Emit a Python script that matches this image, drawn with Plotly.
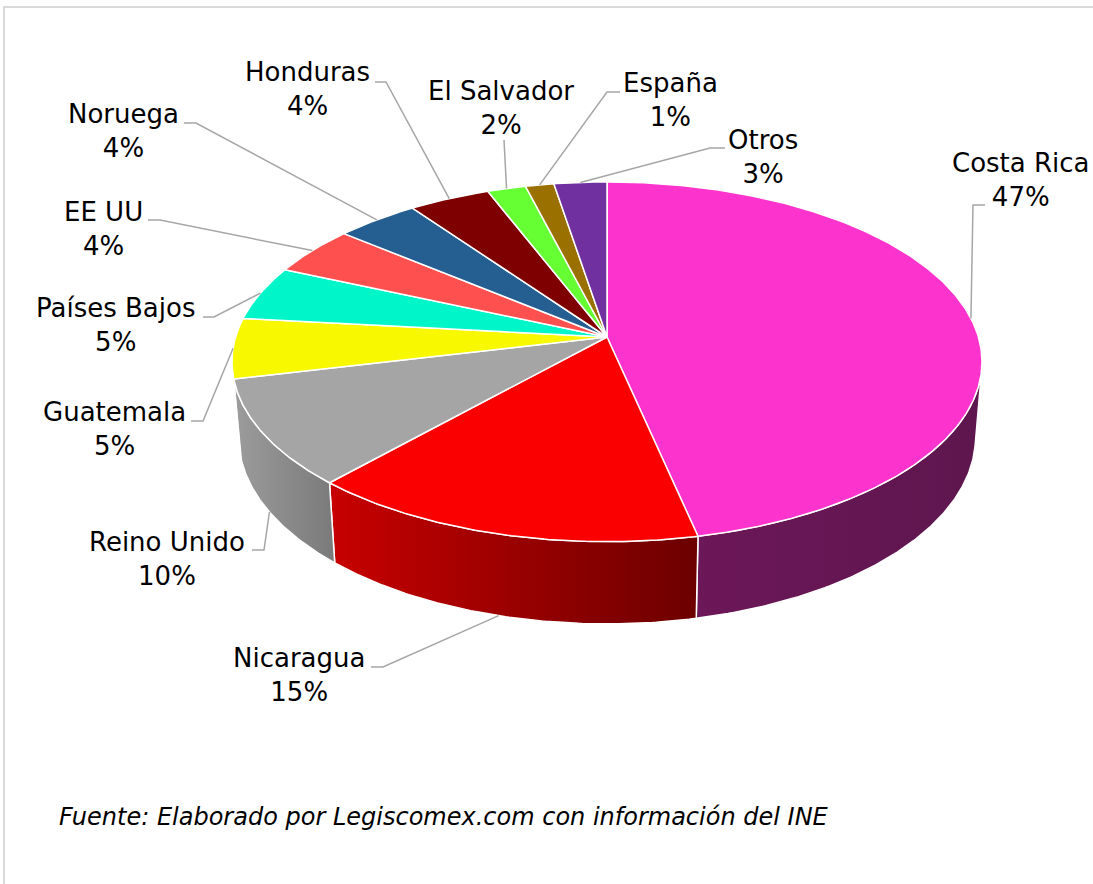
import math
import plotly.graph_objects as go

# ---------------- data ----------------
countries = ["Costa Rica", "Nicaragua", "Reino Unido", "Guatemala", "Países Bajos",
             "EE UU", "Noruega", "Honduras", "El Salvador", "España", "Otros"]
shares = [46.6, 15.1, 9.6, 5.4, 4.9, 4.4, 4.1, 4.0, 1.9, 1.4, 2.6]
top_colors = ["#FC33CC", "#FA0000", "#A5A5A5", "#F8F800", "#00F5C8",
              "#FF5050", "#255E91", "#7F0000", "#66FF33", "#9A7000", "#7030A0"]
side_colors = [("#6C1758", "#5E164E"), ("#C80000", "#6C0000"), ("#9C9C9C", "#7A7A7A"),
               ("#B8B800", "#9A9A00"), ("#00B090", "#009070"), ("#C03C3C", "#A03030"),
               ("#1B4670", "#153858"), ("#600000", "#500000"), ("#4CC020", "#3CA018"),
               ("#735400", "#604400"), ("#542478", "#441C60")]
source_note = "Fuente: Elaborado por Legiscomex.com con información del INE"

# ---------------- layout / style constants ----------------
W, H_PX = 1093, 884
CX, CY = 607.0, 337.0          # screen position of pie centre (top face)
A_SCALE, SIN_PHI = 371.4, 0.475
COS_PHI = math.sqrt(1 - SIN_PHI ** 2)
K = 0.138
DIST = COS_PHI / K             # camera distance in radius units
FOC = A_SCALE * DIST
DEPTH = 0.232                  # pie thickness in radius units

# label centres (x, y) and leader start / elbow points
label_pos = [(1021, 180), (299, 675), (167, 559), (114, 429), (115, 325),
             (103, 229), (123, 131), (307, 89), (501, 108), (670, 100), (763, 157)]
leader_start = [(985, 205), (371, 667), (252, 550), (191, 421), (203, 317),
                (148, 220), (184, 123), (375, 82), (504, 140), (620, 92), (725, 148)]
leader_elbow = [(973, 205), (383, 667), (264, 550), (203, 421), (214, 317),
                (160, 220), (196, 123), (386, 82), (504, 140), (607, 92), (710, 148)]


def proj(t_deg, y):
    t = math.radians(t_deg)
    X, Z = math.sin(t), -math.cos(t)
    d = DIST - (y * SIN_PHI + Z * COS_PHI)
    sx = CX + FOC * X / d
    sy = CY - FOC * (y * COS_PHI - Z * SIN_PHI) / d
    return sx, sy


def arc(a, b, y, step=0.5):
    n = max(2, int(abs(b - a) / step) + 1)
    return [proj(a + (b - a) * i / (n - 1), y) for i in range(n)]


total = sum(shares)
bounds = [0.0]
for s in shares:
    bounds.append(bounds[-1] + 360.0 * s / total)

t_vis0 = math.degrees(math.acos(-1.0 / (DIST * COS_PHI)))
t_vis1 = 360.0 - t_vis0

fig = go.Figure()

# side faces
for i in range(len(shares)):
    a, b = max(bounds[i], t_vis0), min(bounds[i + 1], t_vis1)
    if b <= a:
        continue
    top = arc(a, b, 0.0)
    bot = arc(a, b, -DEPTH)[::-1]
    pts = top + bot + [top[0]]
    fig.add_trace(go.Scatter(
        x=[p[0] for p in pts], y=[p[1] for p in pts], mode="lines",
        fill="toself",
        fillgradient=dict(type="horizontal",
                          colorscale=[[0, side_colors[i][0]], [1, side_colors[i][1]]]),
        line=dict(color="white", width=1.5), hoverinfo="skip", showlegend=False))

# top faces
for i in range(len(shares)):
    pts = [(CX, CY)] + arc(bounds[i], bounds[i + 1], 0.0) + [(CX, CY)]
    fig.add_trace(go.Scatter(
        x=[p[0] for p in pts], y=[p[1] for p in pts], mode="lines",
        fill="toself", fillcolor=top_colors[i],
        line=dict(color="white", width=1.5), hoverinfo="skip", showlegend=False))

# leader lines and labels
for i, name in enumerate(countries):
    mid = (bounds[i] + bounds[i + 1]) / 2
    if t_vis0 < mid < t_vis1:
        end = proj(mid, -DEPTH)
    else:
        end = proj(mid, 0.0)
    xs = [leader_start[i][0], leader_elbow[i][0], end[0]]
    ys = [leader_start[i][1], leader_elbow[i][1], end[1]]
    fig.add_trace(go.Scatter(x=xs, y=ys, mode="lines",
                             line=dict(color="#A6A6A6", width=1.5),
                             hoverinfo="skip", showlegend=False))
    pct = round(100 * shares[i] / total)
    fig.add_annotation(x=label_pos[i][0], y=label_pos[i][1],
                       text=f"{name}<br>{pct}%", showarrow=False,
                       xanchor="center", yanchor="middle", align="center",
                       font=dict(family="DejaVu Sans", size=26, color="#000000"))

fig.add_annotation(x=57, y=817, text=f"<i>{source_note}</i>", showarrow=False,
                   xanchor="left", yanchor="middle",
                   font=dict(family="DejaVu Sans", size=24, color="#000000"))

fig.add_shape(type="rect", x0=4, y0=7, x1=1110, y1=900,
              line=dict(color="#D9D9D9", width=2), layer="below")

fig.update_layout(
    width=W, height=H_PX, margin=dict(l=0, r=0, t=0, b=0),
    paper_bgcolor="white", plot_bgcolor="white",
    xaxis=dict(range=[0, W], visible=False, fixedrange=True),
    yaxis=dict(range=[H_PX, 0], visible=False, fixedrange=True),
    showlegend=False,
)

fig.write_html("out.html")
